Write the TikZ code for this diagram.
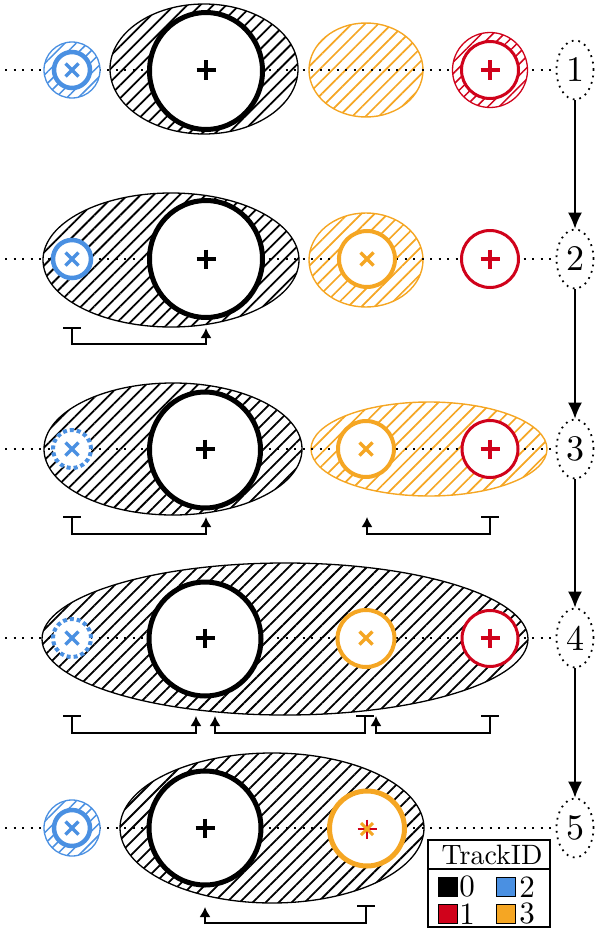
\documentclass[tikz,border=0pt]{standalone}
\usetikzlibrary{arrows.meta,patterns.meta,shapes.geometric}
\definecolor{tblue}{RGB}{74,144,226}
\definecolor{tred}{RGB}{208,2,27}
\definecolor{torange}{RGB}{245,166,35}
\tikzset{
  hatchblack/.style={draw=black,line width=1.3pt,pattern={Lines[angle=45,distance=9.2pt,line width=1.8pt]},pattern color=black},
  hatchorange/.style={draw=torange,line width=1.4pt,pattern={Lines[angle=45,distance=9.4pt,line width=1.7pt]},pattern color=torange},
  hatchring/.style={draw=#1,line width=1.3pt,preaction={fill=white},pattern={Lines[angle=45,distance=8pt,line width=1.5pt]},pattern color=#1},
  track/.style={line width=2pt,dash pattern=on 2pt off 6.5pt},
  numnode/.style={ellipse,draw,line width=1.8pt,dash pattern=on 1.8pt off 4.8pt,minimum width=37pt,minimum height=59pt,inner sep=0pt,font=\fontsize{10}{12}\selectfont},
  flow/.style={line width=1.6pt,-{Latex[length=16pt,width=14pt]}},
  bracket/.style={line width=1.6pt,{Bar[width=18pt,line width=1.6pt]}-{Latex[length=10pt,width=11pt]}},
  blackcirc/.style={draw=black,line width=5pt,fill=white},
  orangecirc/.style={draw=torange,line width=4pt,fill=white},
  redcirc/.style={draw=tred,line width=3pt,fill=white},
  bluecirc/.style={draw=tblue,line width=4.5pt,fill=white},
  bluedash/.style={draw=tblue,line width=4pt,fill=white,dash pattern=on 4pt off 3pt},
  plusmark/.pic={\draw[line width=3.5pt] (-9.5,0)--(9.5,0) (0,-9.5)--(0,9.5);},
  crossmark/.pic={\draw[line width=3.5pt] (-6.5,-6.5)--(6.5,6.5) (-6.5,6.5)--(6.5,-6.5);},
  legsq/.style={draw=black,line width=1pt,minimum size=19pt,inner sep=0pt},
  legtxt/.style={inner sep=0pt,font=\fontsize{10}{12}\selectfont},
}
\begin{document}
\begin{tikzpicture}[x=1pt,y=-1pt]
\useasboundingbox (0,0) rectangle (595,934);
% number nodes
\node[numnode] (n1) at (575,70) {\scalebox{3.6}{1}};
\node[numnode] (n2) at (575,259) {\scalebox{3.6}{2}};
\node[numnode] (n3) at (575,449) {\scalebox{3.6}{3}};
\node[numnode] (n4) at (575,638) {\scalebox{3.6}{4}};
\node[numnode] (n5) at (575,828) {\scalebox{3.6}{5}};
\draw[flow] (n1) -- (n2);
\draw[flow] (n2) -- (n3);
\draw[flow] (n3) -- (n4);
\draw[flow] (n4) -- (n5);
% ---------------- row 1
\draw[hatchblack] (204,69) ellipse [x radius=94pt,y radius=65pt];
\draw[hatchorange] (366,70) ellipse [x radius=57pt,y radius=47pt];
\coordinate (s1) at (5,70);
\draw[track] (s1) -- (n1.west);
\draw[hatchring=tblue] (72,70) ellipse [x radius=28pt,y radius=28pt];
\draw[bluecirc] (72,70) circle [radius=18pt];
\pic[tblue] at (72,70) {crossmark};
\draw[blackcirc] (206,71) ellipse [x radius=56.5pt,y radius=58.5pt];
\pic[black] at (206,70) {plusmark};
\draw[hatchring=tred] (490,70) ellipse [x radius=37.5pt,y radius=37.5pt];
\draw[redcirc] (490,70) circle [radius=28.5pt];
\pic[tred] at (490,70) {plusmark};
% ---------------- row 2
\draw[hatchblack] (171,260) ellipse [x radius=128pt,y radius=67pt];
\draw[hatchorange] (366,260) ellipse [x radius=57pt,y radius=47pt];
\coordinate (s2) at (5,259);
\draw[track] (s2) -- (n2.west);
\draw[bluecirc] (72,259) circle [radius=19pt];
\pic[tblue] at (72,259) {crossmark};
\draw[blackcirc] (206,259) ellipse [x radius=56.5pt,y radius=58.5pt];
\pic[black] at (206,259) {plusmark};
\draw[orangecirc] (367,259) circle [radius=28pt];
\pic[torange] at (367,259) {crossmark};
\draw[redcirc] (490,259) circle [radius=28.5pt];
\pic[tred] at (490,259) {plusmark};
\coordinate (b2s) at (72,327);
\coordinate (b2e) at (206,328);
\draw[bracket] (b2s) -- ++(0,17) -| (b2e);
% ---------------- row 3
\draw[hatchblack] (173,449) ellipse [x radius=129pt,y radius=66pt];
\draw[hatchorange] (429,449) ellipse [x radius=118pt,y radius=47pt];
\coordinate (s3) at (5,449);
\draw[track] (s3) -- (n3.west);
\draw[bluedash] (72,449) circle [radius=19pt];
\pic[tblue] at (72,449) {crossmark};
\draw[blackcirc] (205,450) ellipse [x radius=55.5pt,y radius=58pt];
\pic[black] at (205,449) {plusmark};
\draw[orangecirc] (366,449) circle [radius=28pt];
\pic[torange] at (366,449) {crossmark};
\draw[redcirc] (490,449) ellipse [x radius=28pt,y radius=28.5pt];
\pic[tred] at (490,449) {plusmark};
\coordinate (b3s) at (72,516);
\coordinate (b3e) at (206,517);
\draw[bracket] (b3s) -- ++(0,18) -| (b3e);
\coordinate (b3t) at (490,516);
\coordinate (b3f) at (367,517);
\draw[bracket] (b3t) -- ++(0,18) -| (b3f);
% ---------------- row 4
\draw[hatchblack] (285,639) ellipse [x radius=243pt,y radius=76pt];
\coordinate (s4) at (5,638);
\draw[track] (s4) -- (n4.west);
\draw[bluedash] (72,638) circle [radius=19pt];
\pic[tblue] at (72,638) {crossmark};
\draw[blackcirc] (205,639) ellipse [x radius=56pt,y radius=57pt];
\pic[black] at (205,638) {plusmark};
\draw[orangecirc] (366,638.5) ellipse [x radius=28.5pt,y radius=28.5pt];
\pic[torange] at (366,638) {crossmark};
\draw[redcirc] (490,638.5) ellipse [x radius=28pt,y radius=28pt];
\pic[tred] at (490,638) {plusmark};
\coordinate (b4a) at (72,715);
\coordinate (b4b) at (196,716);
\draw[bracket] (b4a) -- ++(0,18) -| (b4b);
\coordinate (b4c) at (365,715);
\coordinate (b4d) at (215,716);
\draw[bracket] (b4c) -- ++(0,18) -| (b4d);
\coordinate (b4e) at (490,715);
\coordinate (b4f) at (376,716);
\draw[bracket] (b4e) -- ++(0,18) -| (b4f);
% ---------------- row 5
\draw[hatchblack] (272,828) ellipse [x radius=152pt,y radius=75pt];
\coordinate (s5) at (5,828);
\draw[track] (s5) -- (n5.west);
\draw[hatchring=tblue] (72,828) ellipse [x radius=28pt,y radius=28pt];
\draw[bluecirc] (72,828) circle [radius=18pt];
\pic[tblue] at (72,828) {crossmark};
\draw[blackcirc] (205,828) ellipse [x radius=56pt,y radius=57pt];
\pic[black] at (205,828) {plusmark};
\draw[orangecirc,line width=5pt] (367,828.5) circle [radius=37.5pt];
\draw[tred,line width=2.5pt] (357.5,829)--(376.5,829) (367,819.5)--(367,838.5);
\draw[torange,line width=3pt] (361,823)--(373,835) (361,835)--(373,823);
\coordinate (b5s) at (366,905);
\coordinate (b5e) at (205,907);
\draw[bracket] (b5s) -- ++(0,18) -| (b5e);
% ---------------- legend
\draw[line width=1.5pt,fill=white] (428,840) rectangle (550,927);
\draw[line width=1.5pt] (428,869) -- (550,869);
\node[inner sep=0pt,font=\fontsize{10}{12}\selectfont] (ltitle) at (492,855) {\scalebox{2.8}{TrackID}};
\node[legsq,fill=black] (k0) at (447.5,886.5) {};
\node[legtxt] (t0) at (467,887) {\scalebox{3.1}{0}};
\node[legsq,fill=tblue] (k2) at (505.5,886.5) {};
\node[legtxt] (t2) at (527,887) {\scalebox{3.1}{2}};
\node[legsq,fill=tred] (k1) at (447.5,914) {};
\node[legtxt] (t1) at (467,914) {\scalebox{3.1}{1}};
\node[legsq,fill=torange] (k3) at (505.5,914) {};
\node[legtxt] (t3) at (527,914) {\scalebox{3.1}{3}};
\end{tikzpicture}
\end{document}
